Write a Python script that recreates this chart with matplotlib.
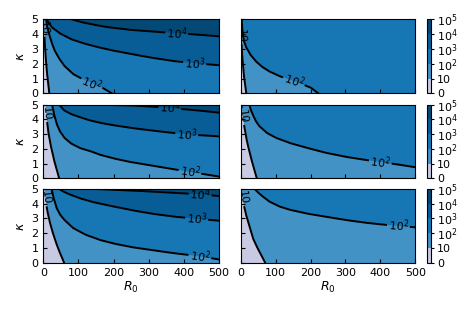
import numpy as np
import matplotlib
matplotlib.use("Agg")
import matplotlib.pyplot as plt
from matplotlib.colors import ListedColormap, BoundaryNorm
from matplotlib.cm import ScalarMappable

# colour bands: boundaries are log10 of the value
levels = [0, 1, 2, 3, 4, 5]
level_names = ['0', '10', '$10^2$', '$10^3$', '$10^4$', '$10^5$']
fill_colors = ['#c8cae3', '#4292c5', '#1777b5', '#085d97', '#044975']
r0_ticks = [0, 100, 200, 300, 400, 500]
kappa_ticks = [0, 1, 2, 3, 4, 5]

# contour lines (R0, kappa) for each panel
# top left
tl_10_r0 = [17, 12, 8, 5, 3, 2]
tl_10_k = [0, 1, 2, 3, 4, 5]
tl_100_r0 = [8, 10, 14, 19, 25, 32, 45, 60, 85, 110, 138, 165, 195]
tl_100_k = [5, 4.6, 4.2, 3.8, 3.35, 2.9, 2.35, 1.85, 1.3, 0.98, 0.7, 0.42, 0]
tl_1e3_r0 = [10, 15, 25, 47, 80, 114, 150, 190, 240, 304, 370, 430, 500]
tl_1e3_k = [5, 4.75, 4.45, 4.05, 3.65, 3.38, 3.15, 2.93, 2.7, 2.42, 2.18, 2.03, 1.9]
tl_1e4_r0 = [80, 110, 145, 180, 242, 323, 380, 437, 500]
tl_1e4_k = [5, 4.8, 4.63, 4.48, 4.3, 4.15, 4.06, 3.97, 3.85]
# top right
tr_10_r0 = [16, 10, 6, 3, 1.5, 0.5]
tr_10_k = [0, 1, 2, 3, 4, 5]
tr_100_r0 = [3, 4, 6, 9, 15, 28, 44, 62, 82, 110, 153, 180, 201, 222]
tr_100_k = [5, 4.5, 4, 3.55, 3.15, 2.6, 2.15, 1.78, 1.48, 1.17, 0.83, 0.58, 0.38, 0]
# middle left
ml_10_r0 = [45, 33, 23, 15, 10, 6]
ml_10_k = [0, 1, 2, 3, 4, 5]
ml_100_r0 = [25, 30, 38, 47, 60, 80, 105, 133, 161, 200, 242, 300, 380, 420, 500]
ml_100_k = [5, 4.4, 3.7, 3.2, 2.75, 2.35, 2.05, 1.85, 1.6, 1.35, 1.13, 0.9, 0.58, 0.42, 0.12]
ml_1e3_r0 = [45, 52, 60, 80, 104, 130, 161, 200, 250, 310, 370, 430, 500]
ml_1e3_k = [5, 4.8, 4.6, 4.35, 4.15, 3.95, 3.77, 3.6, 3.42, 3.24, 3.08, 2.95, 2.85]
ml_1e4_r0 = [150, 250, 313, 370, 427, 500]
ml_1e4_k = [5, 4.95, 4.87, 4.75, 4.64, 4.46]
# middle right
mr_10_r0 = [46, 35, 25, 18, 11, 6, 2]
mr_10_k = [0, 0.9, 1.8, 2.5, 3.4, 4.2, 5]
mr_100_r0 = [25, 28, 35, 43, 53, 75, 101, 140, 177, 240, 300, 351, 400, 447, 500]
mr_100_k = [5, 4.7, 4.3, 3.9, 3.55, 3.08, 2.75, 2.4, 2.15, 1.75, 1.46, 1.27, 1.1, 0.95, 0.75]
# bottom left
bl_10_r0 = [59, 50, 40, 28.5, 20, 14, 10, 6, 3]
bl_10_k = [0, 0.5, 1.1, 1.9, 2.6, 3.2, 3.7, 4.4, 5]
bl_100_r0 = [24, 28, 38, 48, 60, 85, 120, 160, 200, 250, 310, 370, 440, 500]
bl_100_k = [5, 4.5, 3.7, 3.25, 2.9, 2.35, 1.9, 1.55, 1.3, 1.06, 0.85, 0.65, 0.45, 0.22]
bl_1e3_r0 = [45, 55, 70, 104, 140, 180, 250, 310, 370, 437, 500]
bl_1e3_k = [5, 4.85, 4.68, 4.37, 4.12, 3.91, 3.57, 3.32, 3.13, 2.98, 2.85]
bl_1e4_r0 = [150, 250, 330, 400, 446, 500]
bl_1e4_k = [5, 4.9, 4.8, 4.7, 4.65, 4.52]
# bottom right
br_10_r0 = [70, 50, 36, 25, 17, 10, 5, 2]
br_10_k = [0, 0.9, 1.6, 2.5, 3.1, 3.8, 4.4, 5]
br_100_r0 = [40, 48, 60, 82, 110, 139, 190, 240, 300, 351, 408, 450, 500]
br_100_k = [5, 4.8, 4.55, 4.15, 3.82, 3.6, 3.33, 3.13, 2.9, 2.73, 2.58, 2.5, 2.4]

panels = {
    (0, 0): [(1, tl_10_r0, tl_10_k), (2, tl_100_r0, tl_100_k),
             (3, tl_1e3_r0, tl_1e3_k), (4, tl_1e4_r0, tl_1e4_k)],
    (0, 1): [(1, tr_10_r0, tr_10_k), (2, tr_100_r0, tr_100_k)],
    (1, 0): [(1, ml_10_r0, ml_10_k), (2, ml_100_r0, ml_100_k),
             (3, ml_1e3_r0, ml_1e3_k), (4, ml_1e4_r0, ml_1e4_k)],
    (1, 1): [(1, mr_10_r0, mr_10_k), (2, mr_100_r0, mr_100_k)],
    (2, 0): [(1, bl_10_r0, bl_10_k), (2, bl_100_r0, bl_100_k),
             (3, bl_1e3_r0, bl_1e3_k), (4, bl_1e4_r0, bl_1e4_k)],
    (2, 1): [(1, br_10_r0, br_10_k), (2, br_100_r0, br_100_k)],
}

# where the inline labels sit: ('r', R0) or ('k', kappa)
label_spots = {
    (0, 0): {1: ('k', 4.4), 2: ('r', 138), 3: ('r', 430), 4: ('r', 380)},
    (0, 1): {1: ('k', 3.9), 2: ('r', 153)},
    (1, 0): {1: ('k', 4.4), 2: ('r', 417), 3: ('r', 408), 4: ('r', 360)},
    (1, 1): {1: ('k', 4.2), 2: ('r', 399)},
    (2, 0): {1: ('k', 4.4), 2: ('r', 446), 3: ('r', 437), 4: ('r', 446)},
    (2, 1): {1: ('k', 4.4), 2: ('r', 451)},
}

row_y = [(0.7047, 0.2342), (0.4358, 0.2329), (0.1687, 0.2332)]
col_x = [(0.0914, 0.3707), (0.5078, 0.3684)]
cbar_x = (0.8998, 0.0095)

fig = plt.figure(figsize=(4.74, 3.16), dpi=100)
renderer = fig.canvas.get_renderer()


def fill_above(ax, r0, k, color):
    r0, k = list(r0), list(k)
    if k[0] < k[-1]:
        r0, k = r0[::-1], k[::-1]
    xs = r0 + [501, 501, -1]
    ys = k + [-1, 6, 6]
    ax.fill(xs, ys, color=color, lw=0, zorder=1)


def draw_level(ax, r0, k, name, spot):
    pts = ax.transData.transform(np.column_stack([r0, k]))
    seg = np.hypot(np.diff(pts[:, 0]), np.diff(pts[:, 1]))
    s = np.concatenate([[0], np.cumsum(seg)])
    ss = np.linspace(0, s[-1], int(s[-1] * 2) + 2)
    px = np.interp(ss, s, pts[:, 0])
    py = np.interp(ss, s, pts[:, 1])
    data = ax.transData.inverted().transform(np.column_stack([px, py]))
    if spot is not None:
        col = 0 if spot[0] == 'r' else 1
        i = int(np.argmin(np.abs(data[:, col] - spot[1])))
        j0, j1 = max(i - 8, 0), min(i + 8, len(px) - 1)
        ang = np.degrees(np.arctan2(py[j1] - py[j0], px[j1] - px[j0]))
        if ang > 90:
            ang -= 180
        if ang < -90:
            ang += 180
        t = ax.text(data[i, 0], data[i, 1], name, fontsize=8, ha='center',
                    va='center', clip_on=True, zorder=4)
        w = t.get_window_extent(renderer).width
        t.set_rotation(ang)
        t.set_rotation_mode('anchor')
        data[np.abs(ss - ss[i]) < w / 2 + 2] = np.nan
    ax.plot(data[:, 0], data[:, 1], color='k', lw=1.4, zorder=3)


cmap = ListedColormap(fill_colors)
norm = BoundaryNorm(levels, cmap.N)

for row in range(3):
    for col in range(2):
        ax = fig.add_axes([col_x[col][0], row_y[row][0], col_x[col][1], row_y[row][1]])
        ax.set_xlim(0, 500)
        ax.set_ylim(0, 5)
        ax.set_facecolor(fill_colors[0])
        for lvl, r0, k in panels[(row, col)]:
            fill_above(ax, r0, k, fill_colors[lvl])
        for lvl, r0, k in panels[(row, col)]:
            draw_level(ax, r0, k, level_names[lvl], label_spots[(row, col)].get(lvl))
        ax.set_xticks(r0_ticks)
        ax.set_yticks(kappa_ticks)
        ax.tick_params(direction='in', length=3, labelsize=8)
        if row < 2:
            ax.set_xticklabels([])
        else:
            ax.set_xlabel('$R_0$', fontsize=9, labelpad=2)
        if col == 1:
            ax.set_yticklabels([])
        else:
            ax.set_ylabel(r'$\kappa$', fontsize=9, labelpad=3)
    cax = fig.add_axes([cbar_x[0], row_y[row][0], cbar_x[1], row_y[row][1]])
    cb = fig.colorbar(ScalarMappable(norm=norm, cmap=cmap), cax=cax, ticks=levels)
    cb.set_ticklabels(level_names)
    cax.tick_params(labelsize=8, length=2.5, width=0.8, pad=2)

fig.savefig('out.png', dpi=100)
